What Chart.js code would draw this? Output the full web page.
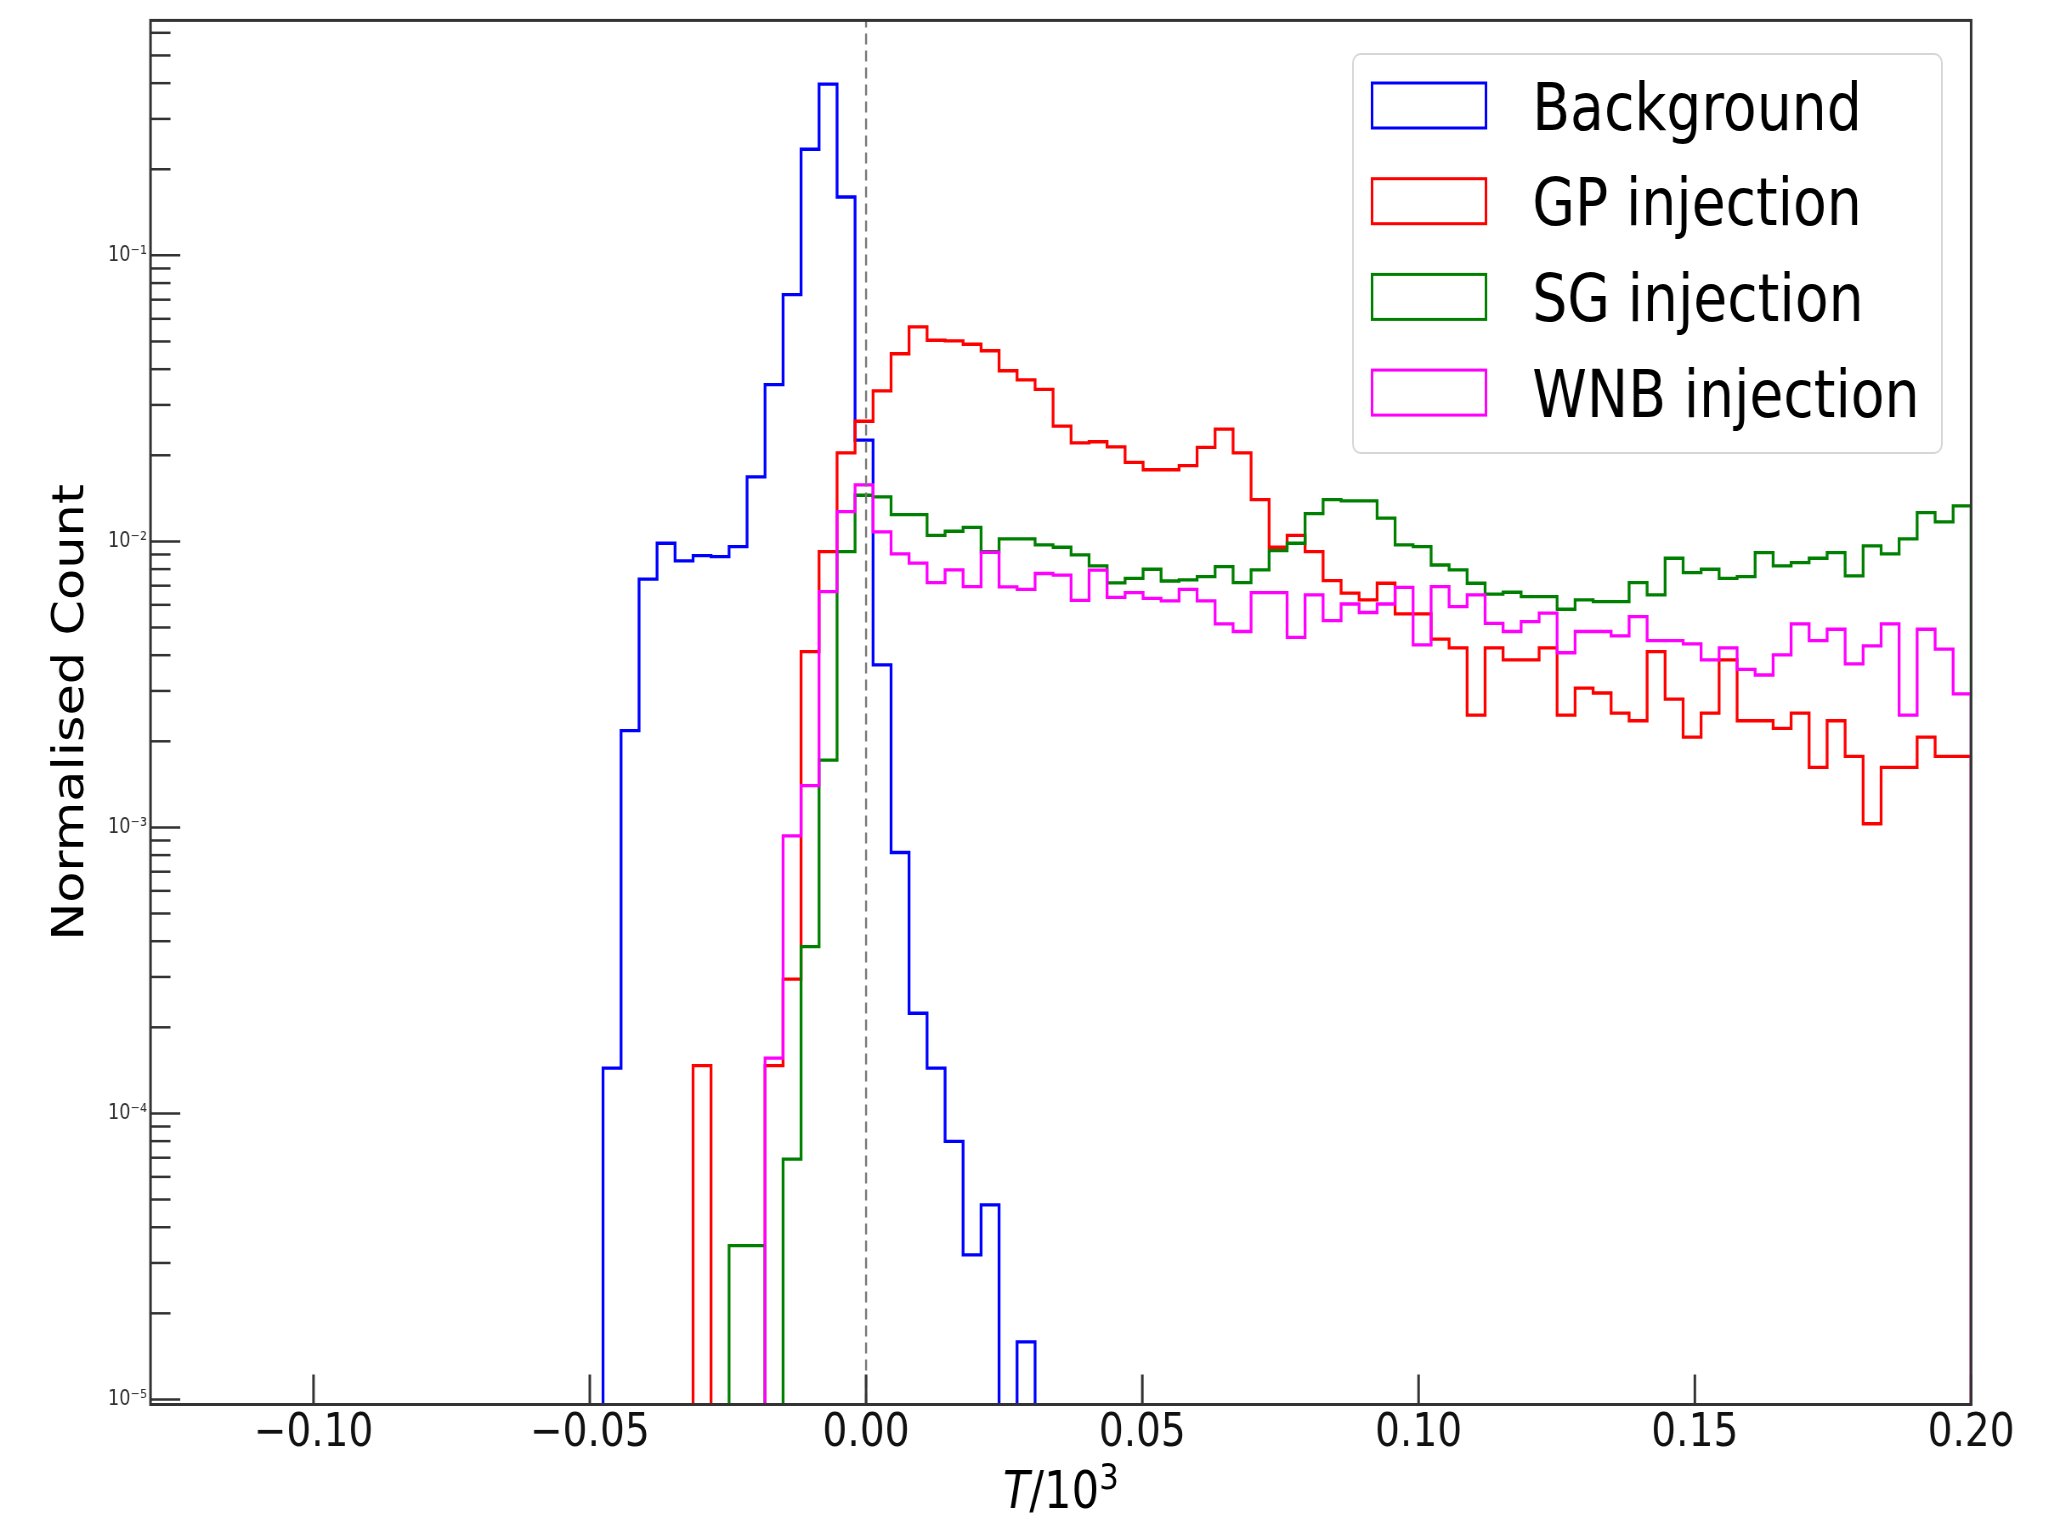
<!DOCTYPE html>
<html>
<head>
<meta charset="utf-8">
<title>Normalised count vs T</title>
<script src="https://cdn.jsdelivr.net/npm/chart.js"></script>
<style>
  html, body { margin: 0; padding: 0; background: #fff; overflow: hidden; }
</style>
</head>
<body>
<!-- the source figure is squeezed sideways, so the canvas is drawn wide and shown at 2060px -->
<canvas id="plot" width="2424" height="1513" style="display:block;width:2060px;height:1513px"></canvas>
<script>
'use strict'

// histogram bins (shared by all series)
var binLo = -0.0476, binHi = 0.2, binCount = 76;

var xMin = -0.1295, xMax = 0.2;
var yMin = 9.6e-6, yMax = 0.663;
var xTicks = [-0.10, -0.05, 0.00, 0.05, 0.10, 0.15, 0.20];
var yTicks = [1e-5, 1e-4, 1e-3, 1e-2, 1e-1];
var yTickLabels = ['10⁻⁵', '10⁻⁴', '10⁻³', '10⁻²', '10⁻¹'];
var zeroLine = 0;

var seriesNames = ['Background', 'GP injection', 'SG injection', 'WNB injection'];
var seriesColors = ['#0000ff', '#ff0000', '#008000', '#ff00ff'];

// normalised counts per bin, starting from bin 0
var background = [
  1.44e-4, 2.18e-3, 7.38e-3, 9.85e-3, 8.55e-3, 8.91e-3, 8.85e-3, 9.59e-3, 1.68e-2, 3.53e-2,
  7.29e-2, 0.235, 0.397, 0.160, 2.26e-2, 3.70e-3, 8.17e-4, 2.24e-4, 1.44e-4, 7.98e-5,
  3.20e-5, 4.79e-5, 0, 1.59e-5];

var gpInjection = [
  0, 0, 0, 0, 0, 1.47e-4, 0, 0, 0, 1.47e-4,
  2.95e-4, 4.12e-3, 9.21e-3, 2.04e-2, 2.63e-2, 3.36e-2, 4.53e-2, 5.62e-2, 5.05e-2, 5.02e-2,
  4.89e-2, 4.64e-2, 3.95e-2, 3.67e-2, 3.40e-2, 2.53e-2, 2.21e-2, 2.23e-2, 2.14e-2, 1.89e-2,
  1.78e-2, 1.78e-2, 1.84e-2, 2.13e-2, 2.47e-2, 2.04e-2, 1.40e-2, 9.54e-3, 1.05e-2, 9.21e-3,
  7.29e-3, 6.59e-3, 6.24e-3, 7.14e-3, 5.58e-3, 5.58e-3, 4.55e-3, 4.24e-3, 2.47e-3, 4.24e-3,
  3.85e-3, 3.85e-3, 4.24e-3, 2.47e-3, 3.07e-3, 2.95e-3, 2.51e-3, 2.36e-3, 4.12e-3, 2.81e-3,
  2.07e-3, 2.51e-3, 3.85e-3, 2.36e-3, 2.36e-3, 2.22e-3, 2.51e-3, 1.62e-3, 2.36e-3, 1.77e-3,
  1.03e-3, 1.62e-3, 1.62e-3, 2.07e-3, 1.77e-3, 1.77e-3];

var sgInjection = [
  0, 0, 0, 0, 0, 0, 0, 3.45e-5, 3.45e-5, 0,
  6.92e-5, 3.83e-4, 1.72e-3, 9.21e-3, 1.45e-2, 1.43e-2, 1.24e-2, 1.24e-2, 1.05e-2, 1.085e-2,
  1.12e-2, 9.21e-3, 1.02e-2, 1.02e-2, 9.72e-3, 9.54e-3, 8.97e-3, 8.21e-3, 7.16e-3, 7.43e-3,
  7.99e-3, 7.27e-3, 7.33e-3, 7.53e-3, 8.16e-3, 7.17e-3, 7.95e-3, 9.28e-3, 9.85e-3, 1.25e-2,
  1.40e-2, 1.385e-2, 1.385e-2, 1.205e-2, 9.72e-3, 9.58e-3, 8.27e-3, 7.95e-3, 7.14e-3, 6.54e-3,
  6.64e-3, 6.41e-3, 6.41e-3, 5.79e-3, 6.24e-3, 6.16e-3, 6.16e-3, 7.17e-3, 6.50e-3, 8.73e-3,
  7.78e-3, 7.99e-3, 7.43e-3, 7.53e-3, 9.13e-3, 8.21e-3, 8.43e-3, 8.73e-3, 9.13e-3, 7.57e-3,
  9.64e-3, 9.04e-3, 1.02e-2, 1.26e-2, 1.17e-2, 1.33e-2];

var wnbInjection = [
  0, 0, 0, 0, 0, 0, 0, 0, 0, 1.56e-4,
  9.34e-4, 1.40e-3, 6.67e-3, 1.27e-2, 1.575e-2, 1.08e-2, 9.04e-3, 8.39e-3, 7.18e-3, 7.95e-3,
  6.95e-3, 9.15e-3, 6.93e-3, 6.80e-3, 7.72e-3, 7.62e-3, 6.22e-3, 7.94e-3, 6.37e-3, 6.62e-3,
  6.32e-3, 6.19e-3, 6.80e-3, 6.19e-3, 5.15e-3, 4.84e-3, 6.62e-3, 6.62e-3, 4.62e-3, 6.50e-3,
  5.28e-3, 6.04e-3, 5.64e-3, 6.04e-3, 6.91e-3, 4.35e-3, 6.95e-3, 5.91e-3, 6.50e-3, 5.17e-3,
  4.84e-3, 5.24e-3, 5.61e-3, 4.08e-3, 4.84e-3, 4.84e-3, 4.67e-3, 5.46e-3, 4.50e-3, 4.50e-3,
  4.38e-3, 3.85e-3, 4.24e-3, 3.57e-3, 3.41e-3, 4.01e-3, 5.15e-3, 4.50e-3, 4.93e-3, 3.73e-3,
  4.31e-3, 5.15e-3, 2.47e-3, 4.93e-3, 4.20e-3, 2.93e-3];

var seriesValues = [background, gpInjection, sgInjection, wnbInjection];

var FONT = '"DejaVu Sans", sans-serif';
Chart.defaults.font.family = FONT;
Chart.defaults.color = '#111';

// empty bins drop below the axis (log scale cannot show zero)
var yFloor = 1e-7;

function binEdge(i) {
  return binLo + i * (binHi - binLo) / binCount;
}

function stepPoints(counts) {
  var pts = [{x: binEdge(0), y: yFloor}];
  counts.forEach(function (v, i) {
    pts.push({x: binEdge(i), y: v > 0 ? v : yFloor});
  });
  pts.push({x: binEdge(counts.length), y: yFloor});
  return pts;
}

var datasets = seriesValues.map(function (vals, i) {
  return {
    label: seriesNames[i],
    data: stepPoints(vals),
    borderColor: seriesColors[i],
    borderWidth: 3.3,
    stepped: 'before',
    pointRadius: 0,
    fill: false,
    clip: 0,
    order: 4 - i
  };
});
datasets.push({
  data: [{x: zeroLine, y: yMin}, {x: zeroLine, y: yMax}],
  borderColor: '#777',
  borderWidth: 2.4,
  borderDash: [11, 6],
  pointRadius: 0,
  clip: 0,
  order: 0
});

// frame + inward ticks like the matplotlib axes
var axisFrame = {
  id: 'axisFrame',
  afterDatasetsDraw: function (chart) {
    var c = chart.ctx, a = chart.chartArea;
    var xs = chart.scales.x, ys = chart.scales.y;
    c.save();
    c.strokeStyle = '#333';
    c.lineWidth = 2.5;
    for (var k = -6; k <= 0; k++) {
      for (var m = 1; m <= 9; m++) {
        var v = m * Math.pow(10, k);
        if (v < yMin || v > yMax) continue;
        var py = ys.getPixelForValue(v);
        var len = m === 1 ? 35 : 23.5;
        c.beginPath();
        c.moveTo(a.left, py);
        c.lineTo(a.left + len, py);
        c.stroke();
      }
    }
    c.lineWidth = 3;
    xTicks.forEach(function (v) {
      var px = xs.getPixelForValue(v);
      c.beginPath();
      c.moveTo(px, a.bottom);
      c.lineTo(px, a.bottom - 30);
      c.stroke();
    });
    c.strokeRect(a.left, a.top, a.right - a.left, a.bottom - a.top);
    c.restore();
  }
};

var boxLegend = {
  id: 'boxLegend',
  afterDraw: function (chart) {
    var c = chart.ctx;
    var sets = chart.data.datasets.filter(function (d) { return d.label; });
    c.save();
    c.beginPath();
    c.roundRect(1592, 54, 693, 399, 9);
    c.fillStyle = 'rgba(255,255,255,0.8)';
    c.fill();
    c.strokeStyle = 'rgba(204,204,204,0.8)';
    c.lineWidth = 2;
    c.stroke();
    c.font = '65px ' + FONT;
    c.textBaseline = 'alphabetic';
    sets.forEach(function (d, i) {
      var cy = 105.5 + i * 95.7;
      c.strokeStyle = d.borderColor;
      c.lineWidth = 3;
      c.strokeRect(1614.5, cy - 22.5, 134, 45);
      c.fillStyle = '#000';
      c.fillText(d.label, 1803, cy + 24);
    });
    c.restore();
  }
};

// x label: italic T, upright /10, superscript 3
var xLabel = {
  id: 'xLabel',
  afterDraw: function (chart) {
    var c = chart.ctx, a = chart.chartArea;
    var fs = 51;
    var parts = [
      {t: 'T', f: 'italic ' + fs + 'px ' + FONT, dy: 0},
      {t: '/10', f: fs + 'px ' + FONT, dy: 0},
      {t: '3', f: Math.round(fs * 0.7) + 'px ' + FONT, dy: -0.38 * fs}
    ];
    c.save();
    c.fillStyle = '#000';
    c.textBaseline = 'alphabetic';
    var w = 0;
    parts.forEach(function (p) { c.font = p.f; p.w = c.measureText(p.t).width; w += p.w; });
    var x0 = (a.left + a.right) / 2 - w / 2;
    parts.forEach(function (p) {
      c.font = p.f;
      c.fillText(p.t, x0, 1508 + p.dy);
      x0 += p.w;
    });
    c.restore();
  }
};

var ctx = document.getElementById('plot');
var mychart = new Chart(ctx, {
  type: 'line',
  data: {datasets: datasets},
  options: {
    responsive: false,
    animation: false,
    events: [],
    layout: {padding: {left: 0, top: 20.4, right: 104.6, bottom: 0}},
    plugins: {
      legend: {display: false},
      tooltip: {enabled: false}
    },
    scales: {
      x: {
        type: 'linear',
        min: xMin,
        max: xMax,
        grid: {display: false, drawTicks: false},
        border: {display: false},
        afterBuildTicks: function (s) {
          s.ticks = xTicks.map(function (v) { return {value: v}; });
        },
        afterFit: function (s) {
          s.height = 108.5;
          s.paddingLeft = 0;
          s.paddingRight = 0;
        },
        ticks: {
          autoSkip: false,
          maxRotation: 0,
          padding: 2,
          color: '#111',
          font: {size: 46},
          callback: function (v) {
            return (v < 0 ? '\u2212' : '') + Math.abs(v).toFixed(2);
          }
        }
      },
      y: {
        type: 'logarithmic',
        min: yMin,
        max: yMax,
        grid: {display: false, drawTicks: false},
        border: {display: false},
        afterBuildTicks: function (s) {
          s.ticks = yTicks.map(function (v) { return {value: v}; });
        },
        afterFit: function (s) {
          s.width = 177.1;
          s.paddingTop = 0;
          s.paddingBottom = 0;
        },
        ticks: {
          autoSkip: false,
          padding: 4,
          color: '#333',
          font: {size: 21},
          callback: function (v, i) { return yTickLabels[i]; }
        },
        title: {
          display: true,
          text: 'Normalised Count',
          color: '#000',
          font: {size: 51},
          padding: {top: 54, bottom: 0}
        }
      }
    }
  },
  plugins: [axisFrame, boxLegend, xLabel]
});
</script>
</body>
</html>
